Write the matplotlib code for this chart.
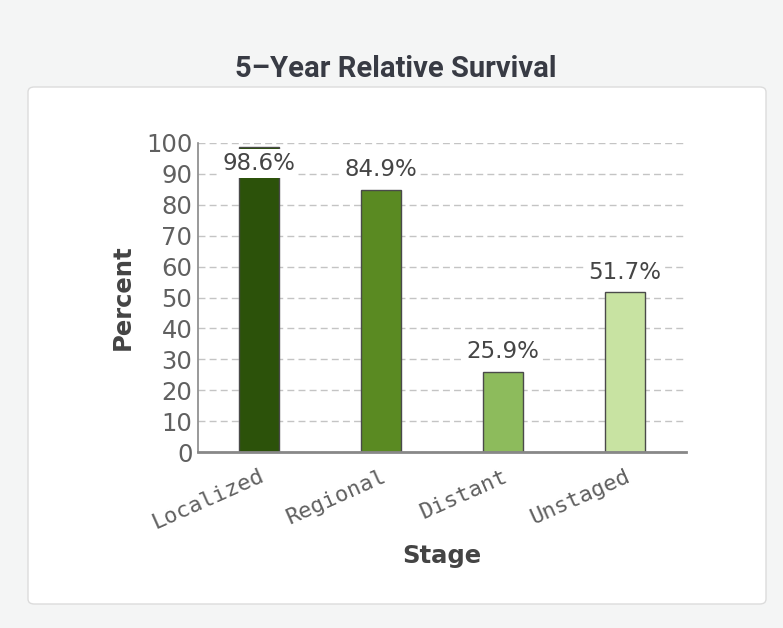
import matplotlib
matplotlib.use("Agg")
import matplotlib.pyplot as plt
from matplotlib.patches import FancyBboxPatch

categories = ["Localized", "Regional", "Distant", "Unstaged"]
values = [98.6, 84.9, 25.9, 51.7]
labels = ["98.6%", "84.9%", "25.9%", "51.7%"]
colors = ["#2c520a", "#5a8a22", "#8dbb5c", "#c8e3a2"]
yticks = [0, 10, 20, 30, 40, 50, 60, 70, 80, 90, 100]

fig = plt.figure(figsize=(7.83, 6.28), dpi=100)
fig.patch.set_facecolor("#f4f5f5")

panel = FancyBboxPatch((28/783, 1-604/628), (766-28)/783, (604-87)/628,
                       boxstyle="round,pad=0,rounding_size=0.008",
                       transform=fig.transFigure, facecolor="white",
                       edgecolor="#dcdcdc", linewidth=1.0, zorder=-10)
fig.patches.append(panel)

fig.text(396/783, 1-69/628, "5\u2013Year Relative Survival", ha="center", va="center",
         fontsize=21, fontweight="bold", family="Roboto", color="#383b44")

ax = fig.add_axes([198/783, 1-452/628, (686-198)/783, (452-143)/628])
ax.set_zorder(1)
ax.set_facecolor("white")
x = [i + 0.5 for i in range(len(categories))]
ax.bar(x, values, width=0.33, color=colors, edgecolor="#4a4a4a", linewidth=1.0, zorder=2)
for xi, v, lab in zip(x, values, labels):
    ly = min(v + 6.5, 93.3)
    ax.text(xi, ly, lab, ha="center", va="center", fontsize=16.5, color="#454545",
            zorder=4, bbox=dict(facecolor="white", edgecolor="none", pad=2.0))

ax.set_xlim(0, 4)
ax.set_ylim(0, 100)
ax.set_yticks(yticks)
ax.set_yticklabels([str(t) for t in yticks], fontsize=17.5, color="#606060")
ax.yaxis.grid(True, linestyle=(0, (5, 3)), color="#c4c4c4", linewidth=1.0, zorder=1)
ax.set_axisbelow(True)
ax.set_xticks(x)
ax.set_xticklabels(categories, rotation=24, ha="right", rotation_mode="anchor",
                   fontsize=16, family="DejaVu Sans Mono", color="#606060")
ax.tick_params(axis="y", length=0, pad=4)
ax.tick_params(axis="x", length=0, pad=10)
for s in ["top", "right"]:
    ax.spines[s].set_visible(False)
ax.spines["left"].set_color("#888888")
ax.spines["left"].set_linewidth(1.2)
ax.spines["bottom"].set_color("#888888")
ax.spines["bottom"].set_linewidth(2.0)

ax.set_ylabel("Percent", fontsize=17.5, fontweight="bold", color="#444444", labelpad=8)
ax.set_xlabel("Stage", fontsize=17.5, fontweight="bold", color="#444444", labelpad=8)

fig.savefig("out.png", dpi=100, facecolor=fig.get_facecolor())
